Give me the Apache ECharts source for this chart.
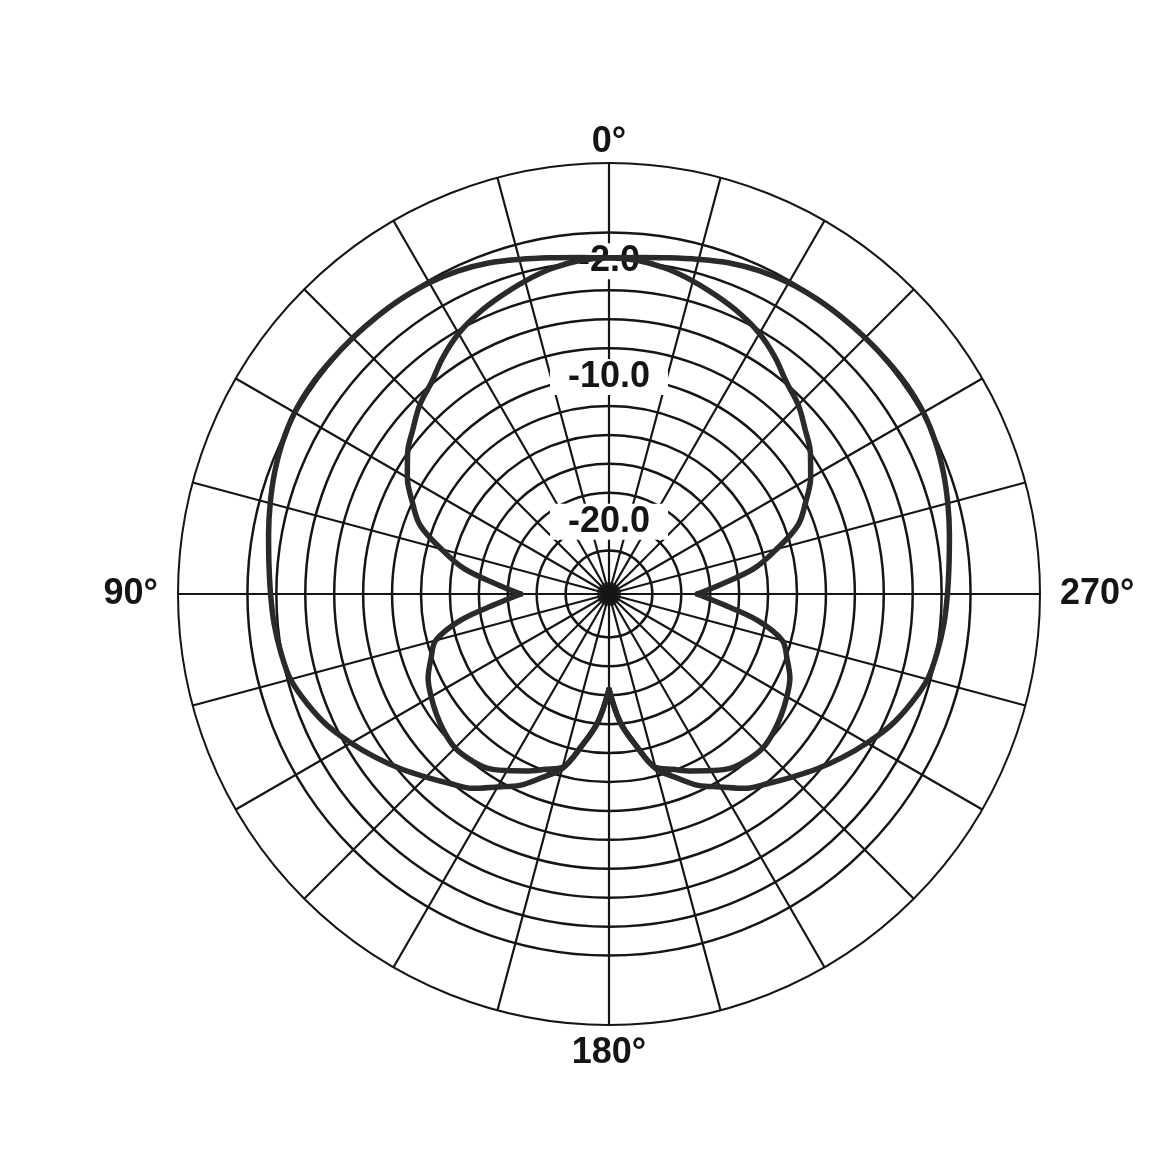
<!DOCTYPE html>
<html>
<head>
<meta charset="utf-8">
<script src="https://cdn.jsdelivr.net/npm/echarts@6/dist/echarts.min.js"></script>
<style>
html, body { margin: 0; background: #fff; }
#chart { width: 1176px; height: 1176px; }
</style>
</head>
<body>
<div id="chart"></div>
<script>
// 指向性极坐标图：角度(度)，幅度(dB)

const angles = [0, 5, 10, 15, 20, 25, 30, 35, 40, 45, 50, 55, 60, 65, 70, 75, 80, 85,
  90, 95, 100, 105, 110, 115, 120, 125, 130, 135, 140, 145, 150, 155, 160, 165, 170, 175,
  180, 185, 190, 195, 200, 205, 210, 215, 220, 225, 230, 235, 240, 245, 250, 255, 260, 265,
  270, 275, 280, 285, 290, 295, 300, 305, 310, 315, 320, 325, 330, 335, 340, 345, 350, 355];

// 外侧宽曲线
const wideDb = [-1.75, -1.65, -1.4, -1.05, -0.65, -0.35, -0.15, -0.05, 0.0, 0.05, 0.1, 0.15, 0.1, -0.1, -0.4, -0.75, -1.1, -1.4,
  -1.6, -1.75, -1.95, -2.2, -2.8, -3.5, -4.4, -5.3, -6.2, -7.1, -7.9, -8.6, -9.6, -10.4, -11.5, -12.5, -14.4, -16.1,
  -18.4, -16.1, -14.4, -12.5, -11.5, -10.4, -9.6, -8.6, -7.9, -7.1, -6.2, -5.3, -4.4, -3.5, -2.8, -2.2, -1.95, -1.75,
  -1.6, -1.4, -1.1, -0.75, -0.4, -0.1, 0.1, 0.15, 0.1, 0.05, 0.0, -0.05, -0.15, -0.35, -0.65, -1.05, -1.4, -1.65];

// 内侧窄曲线（带后瓣）
const narrowDb = [-1.75, -1.85, -2.15, -2.6, -3.1, -3.6, -4.2, -5.0, -5.9, -6.5, -7.3, -8.0, -8.9, -10.0, -11.1, -13.0, -14.8, -17.2,
  -18.9, -17.2, -14.6, -12.6, -11.9, -11.2, -10.8, -10.45, -10.15, -9.95, -10.05, -10.3, -10.9, -11.5, -12.1, -12.6, -14.4, -16.1,
  -18.4, -16.1, -14.4, -12.6, -12.1, -11.5, -10.9, -10.3, -10.05, -9.95, -10.15, -10.45, -10.8, -11.2, -11.9, -12.6, -14.6, -17.2,
  -18.9, -17.2, -14.8, -13.0, -11.1, -10.0, -8.9, -8.0, -7.3, -6.5, -5.9, -5.0, -4.2, -3.6, -3.1, -2.6, -2.15, -1.85];

const ringTicks = [-22, -20, -18, -16, -14, -12, -10, -8, -6, -4, -2, 0];
const ringLabels = [-20, -10, -2];
const angleLabels = [0, 90, 180, 270];
const dbMin = -25;
const dbMax = 4.8;

// 在两个尖点之间取一段曲线（单独平滑，尖点保持尖锐）
function arc(values, from, to) {
  const pts = [];
  for (let a = from; a <= to; a += 5) {
    const ang = a % 360;
    pts.push([values[angles.indexOf(ang)], ang]);
  }
  return pts;
}

const chart = echarts.init(document.getElementById('chart'));
const center = [609, 594];
const ink = '#151515';
const curveInk = '#2a2a2a';
const font = 'Liberation Sans, Arial, sans-serif';

function curve(name, data) {
  return {
    name: name, type: 'line', coordinateSystem: 'polar', polarIndex: 0,
    data: data, symbol: 'none', smooth: 0.35, z: 3,
    lineStyle: { color: curveInk, width: 5.5, join: 'round', cap: 'round' }
  };
}

function angleText(v) {
  if (v === 90 || v === 270) return '{side|' + v + '°}';
  if (v === 180) return '{bottom|' + v + '°}';
  return v + '°';
}

const labelFont = { fontSize: 36, fontWeight: 'bold', color: ink, fontFamily: font };

const option = {
  backgroundColor: '#fff',
  animation: false,
  polar: [
    { center: center, radius: 431 },
    { center: center, radius: 431 }
  ],
  angleAxis: [
    {
      polarIndex: 0, type: 'value', min: 0, max: 360, interval: 15,
      startAngle: 90, clockwise: false,
      axisLine: { lineStyle: { color: ink, width: 2 } },
      axisTick: { show: false },
      splitLine: { lineStyle: { color: ink, width: 2.2 } },
      axisLabel: Object.assign({
        customValues: angleLabels,
        formatter: angleText,
        margin: 3,
        rich: {
          side: Object.assign({ padding: [0, 17, 0, 17] }, labelFont),
          bottom: Object.assign({ padding: [7, 0, 0, 0] }, labelFont)
        }
      }, labelFont)
    },
    { polarIndex: 1, type: 'value', min: 0, max: 360, startAngle: 90, clockwise: false, show: false }
  ],
  radiusAxis: [
    {
      polarIndex: 0, type: 'value', min: dbMin, max: dbMax,
      axisLine: { show: false },
      axisTick: { show: false, customValues: ringTicks },
      axisLabel: { show: false },
      splitLine: { show: true, lineStyle: { color: ink, width: 2.5 } }
    },
    {
      polarIndex: 1, type: 'value', min: dbMin, max: dbMax, z: 1,
      axisLine: { show: false },
      axisTick: { show: false },
      splitLine: { show: false },
      axisLabel: Object.assign({
        customValues: ringLabels,
        formatter: v => v.toFixed(1),
        margin: 0, align: 'center', verticalAlign: 'middle',
        backgroundColor: '#fff', padding: [0, 18]
      }, labelFont)
    }
  ],
  series: [
    curve('wide', arc(wideDb, 180, 540)),
    curve('narrow-front', arc(narrowDb, 270, 450)),
    curve('narrow-rear-left', arc(narrowDb, 90, 180)),
    curve('narrow-rear-right', arc(narrowDb, 180, 270)),
    {
      name: 'hub', type: 'scatter', coordinateSystem: 'polar', polarIndex: 0,
      data: [[dbMin, 0]], symbolSize: 24, z: 4,
      itemStyle: { color: ink }
    }
  ]
};

option && chart.setOption(option);
</script>
</body>
</html>
